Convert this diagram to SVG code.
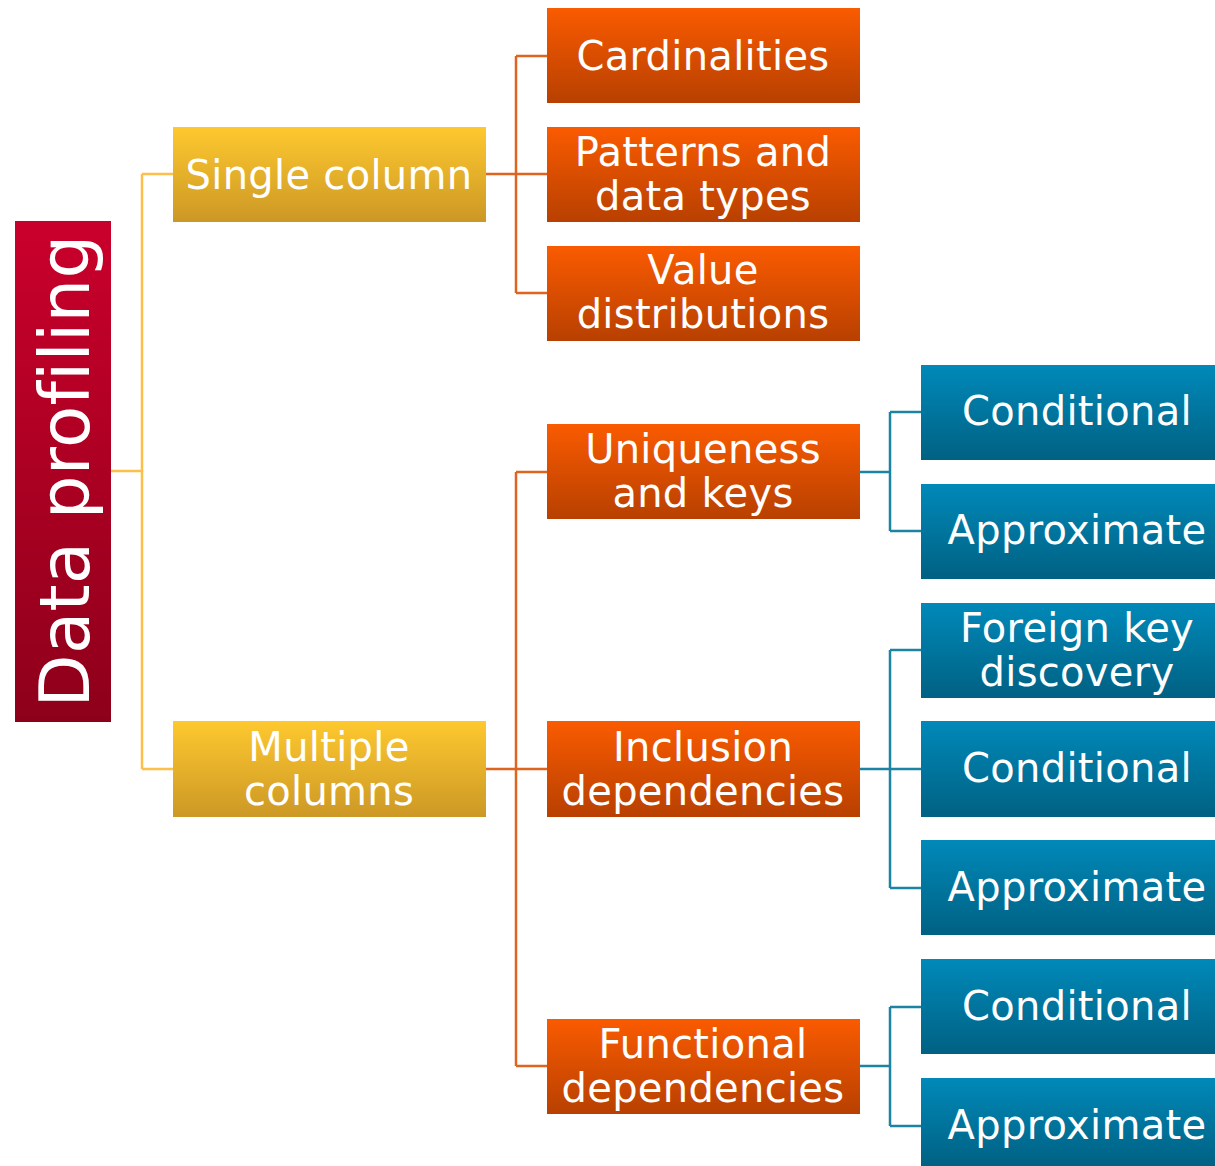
<svg xmlns="http://www.w3.org/2000/svg" width="1215" height="1166" viewBox="0 0 1215 1166">
<defs>
<linearGradient id="gRed" x1="0" y1="0" x2="0" y2="1"><stop offset="0" stop-color="#ca002c"/><stop offset="1" stop-color="#8e001a"/></linearGradient>
<linearGradient id="gYel" x1="0" y1="0" x2="0" y2="1"><stop offset="0" stop-color="#fec82f"/><stop offset="1" stop-color="#cc9825"/></linearGradient>
<linearGradient id="gOra" x1="0" y1="0" x2="0" y2="1"><stop offset="0" stop-color="#fa5b00"/><stop offset="1" stop-color="#b84000"/></linearGradient>
<linearGradient id="gBlu" x1="0" y1="0" x2="0" y2="1"><stop offset="0" stop-color="#0089b9"/><stop offset="1" stop-color="#006183"/></linearGradient>
</defs>
<style>
text{font-family:"DejaVu Sans",Verdana,sans-serif;font-size:40px;fill:#ffffff;text-anchor:middle;letter-spacing:0.3px}
.red{fill:url(#gRed)}.yel{fill:url(#gYel)}.ora{fill:url(#gOra)}.blu{fill:url(#gBlu)}
.cy{stroke:#fcc04a;stroke-width:2.5;fill:none}
.co{stroke:#de6420;stroke-width:2.5;fill:none}
.cb{stroke:#1c83a3;stroke-width:2.5;fill:none}
</style>
<rect width="1215" height="1166" fill="#ffffff"/>
<g id="connectors">
<path class="cy" d="M111 471H142M142 174V769M142 174H173M142 769H173"/>
<path class="co" d="M486 174H547M516 56V293M516 56H547M516 293H547"/>
<path class="co" d="M486 769H547M516 472V1066M516 472H547M516 1066H547"/>
<path class="cb" d="M860 472H890M890 412V531M890 412H921M890 531H921"/>
<path class="cb" d="M860 769H921M890 650V888M890 650H921M890 888H921"/>
<path class="cb" d="M860 1066H890M890 1007V1126M890 1007H921M890 1126H921"/>
</g>
<g id="data-profiling"><rect class="red" x="15" y="221" width="96" height="501"/><text transform="translate(89 471) rotate(-90)" style="font-size:69px">Data profiling</text></g>
<g id="single-column"><rect class="yel" x="173" y="127" width="313" height="95"/><text x="329" y="189">Single column</text></g>
<g id="multiple-columns"><rect class="yel" x="173" y="721" width="313" height="96"/><text x="329" y="761">Multiple</text><text x="329" y="805">columns</text></g>
<g id="cardinalities"><rect class="ora" x="547" y="8" width="313" height="95"/><text x="703" y="70">Cardinalities</text></g>
<g id="patterns"><rect class="ora" x="547" y="127" width="313" height="95"/><text x="703" y="166">Patterns and</text><text x="703" y="210">data types</text></g>
<g id="value-distributions"><rect class="ora" x="547" y="246" width="313" height="95"/><text x="703" y="284">Value</text><text x="703" y="328">distributions</text></g>
<g id="uniqueness"><rect class="ora" x="547" y="424" width="313" height="95"/><text x="703" y="463">Uniqueness</text><text x="703" y="507">and keys</text></g>
<g id="inclusion"><rect class="ora" x="547" y="721" width="313" height="96"/><text x="703" y="761">Inclusion</text><text x="703" y="805">dependencies</text></g>
<g id="functional"><rect class="ora" x="547" y="1019" width="313" height="95"/><text x="703" y="1058">Functional</text><text x="703" y="1102">dependencies</text></g>
<g id="ucc-conditional"><rect class="blu" x="921" y="365" width="294" height="95"/><text x="1077" y="425">Conditional</text></g>
<g id="ucc-approximate"><rect class="blu" x="921" y="484" width="294" height="95"/><text x="1077" y="544">Approximate</text></g>
<g id="ind-foreign-key"><rect class="blu" x="921" y="603" width="294" height="95"/><text x="1077" y="642">Foreign key</text><text x="1077" y="686">discovery</text></g>
<g id="ind-conditional"><rect class="blu" x="921" y="721" width="294" height="96"/><text x="1077" y="782">Conditional</text></g>
<g id="ind-approximate"><rect class="blu" x="921" y="840" width="294" height="95"/><text x="1077" y="901">Approximate</text></g>
<g id="fd-conditional"><rect class="blu" x="921" y="959" width="294" height="95"/><text x="1077" y="1020">Conditional</text></g>
<g id="fd-approximate"><rect class="blu" x="921" y="1078" width="294" height="88"/><text x="1077" y="1139">Approximate</text></g>
</svg>
